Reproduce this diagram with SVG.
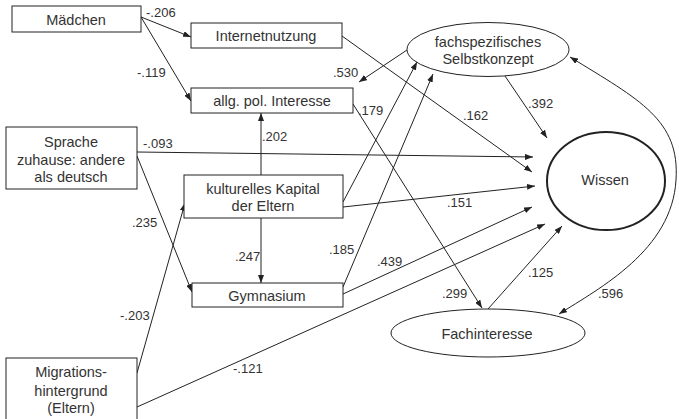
<svg xmlns="http://www.w3.org/2000/svg" width="679" height="419" viewBox="0 0 679 419">
<style>
.box{fill:#fff;stroke:#222;stroke-width:1}
.ell{fill:#fff;stroke:#222;stroke-width:1}
.t{font-family:"Liberation Sans",Arial,sans-serif;font-size:14.5px;fill:#333;text-anchor:middle}
.l{font-family:"Liberation Sans",Arial,sans-serif;font-size:13px;fill:#333}
.c{fill:none;stroke:#222;stroke-width:1;marker-end:url(#ah)}
</style>
<defs>
<marker id="ah" markerUnits="userSpaceOnUse" markerWidth="8" markerHeight="6" refX="8" refY="3" orient="auto-start-reverse">
<path d="M0,0 L8,3 L0,6 z" fill="#222"/>
</marker>
</defs>
<rect width="679" height="419" fill="#fff"/>
<g id="connectors">
<line class="c" x1="141" y1="17" x2="191" y2="37"/>
<line class="c" x1="141" y1="17" x2="191" y2="101"/>
<line class="c" x1="342" y1="36" x2="532" y2="172"/>
<line class="c" x1="407" y1="50" x2="359" y2="82"/>
<line class="c" x1="353" y1="104" x2="482" y2="308"/>
<line class="c" x1="505" y1="76" x2="547" y2="138"/>
<line class="c" x1="137" y1="152" x2="533" y2="157"/>
<line class="c" x1="137" y1="156" x2="192" y2="292"/>
<line class="c" x1="261" y1="175" x2="261" y2="113"/>
<line class="c" x1="261" y1="218" x2="261" y2="283"/>
<line class="c" x1="343" y1="202" x2="417" y2="62"/>
<line class="c" x1="343" y1="207" x2="535" y2="186"/>
<line class="c" x1="343" y1="287" x2="433" y2="74"/>
<line class="c" x1="343" y1="294" x2="532" y2="207"/>
<line class="c" x1="137" y1="373" x2="185" y2="203"/>
<line class="c" x1="137" y1="407" x2="545" y2="224"/>
<line class="c" x1="488" y1="309" x2="562" y2="226"/>
<path class="c" style="marker-start:url(#ah)" d="M570,57 C640,100 680,120 676,180 C672,250 600,288 559,314"/>
<text class="l" x="146" y="17">-.206</text>
<text class="l" x="137" y="77">-.119</text>
<text class="l" x="333" y="77">.530</text>
<text class="l" x="358" y="115">.179</text>
<text class="l" x="463" y="120">.162</text>
<text class="l" x="528" y="108">.392</text>
<text class="l" x="262" y="141">.202</text>
<text class="l" x="143" y="148">-.093</text>
<text class="l" x="132" y="227">.235</text>
<text class="l" x="235" y="261">.247</text>
<text class="l" x="329" y="254">.185</text>
<text class="l" x="447" y="207">.151</text>
<text class="l" x="377" y="266">.439</text>
<text class="l" x="528" y="277">.125</text>
<text class="l" x="442" y="298">.299</text>
<text class="l" x="598" y="298">.596</text>
<text class="l" x="120" y="320">-.203</text>
<text class="l" x="233" y="373">-.121</text>
</g>
<g id="maedchen"><rect class="box" x="12" y="6" width="129" height="26"/><text class="t" x="76" y="25">Mädchen</text></g>
<g id="internetnutzung"><rect class="box" x="191" y="23" width="151" height="25"/><text class="t" x="266" y="41">Internetnutzung</text></g>
<g id="interesse"><rect class="box" x="191" y="88" width="162" height="25"/><text class="t" x="272" y="106">allg. pol. Interesse</text></g>
<g id="sprache"><rect class="box" x="6" y="127" width="131" height="62"/><text class="t" x="71" y="147">Sprache</text><text class="t" x="71" y="165">zuhause: andere</text><text class="t" x="71" y="182">als deutsch</text></g>
<g id="kapital"><rect class="box" x="184" y="175" width="159" height="43"/><text class="t" x="263" y="194">kulturelles Kapital</text><text class="t" x="263" y="211">der Eltern</text></g>
<g id="gymnasium"><rect class="box" x="192" y="283" width="151" height="24"/><text class="t" x="267" y="301">Gymnasium</text></g>
<g id="migration"><rect class="box" x="6" y="358" width="131" height="64"/><text class="t" x="71" y="377">Migrations-</text><text class="t" x="71" y="396">hintergrund</text><text class="t" x="71" y="413">(Eltern)</text></g>
<g id="selbstkonzept"><ellipse class="ell" cx="488" cy="49.5" rx="81" ry="27"/><text class="t" x="488" y="47">fachspezifisches</text><text class="t" x="488" y="64">Selbstkonzept</text></g>
<g id="wissen"><ellipse class="ell" style="stroke-width:2" cx="606" cy="181" rx="59" ry="49"/><text class="t" x="605" y="185">Wissen</text></g>
<g id="fachinteresse"><ellipse class="ell" cx="488" cy="333" rx="97" ry="24"/><text class="t" x="487" y="339">Fachinteresse</text></g>
</svg>
